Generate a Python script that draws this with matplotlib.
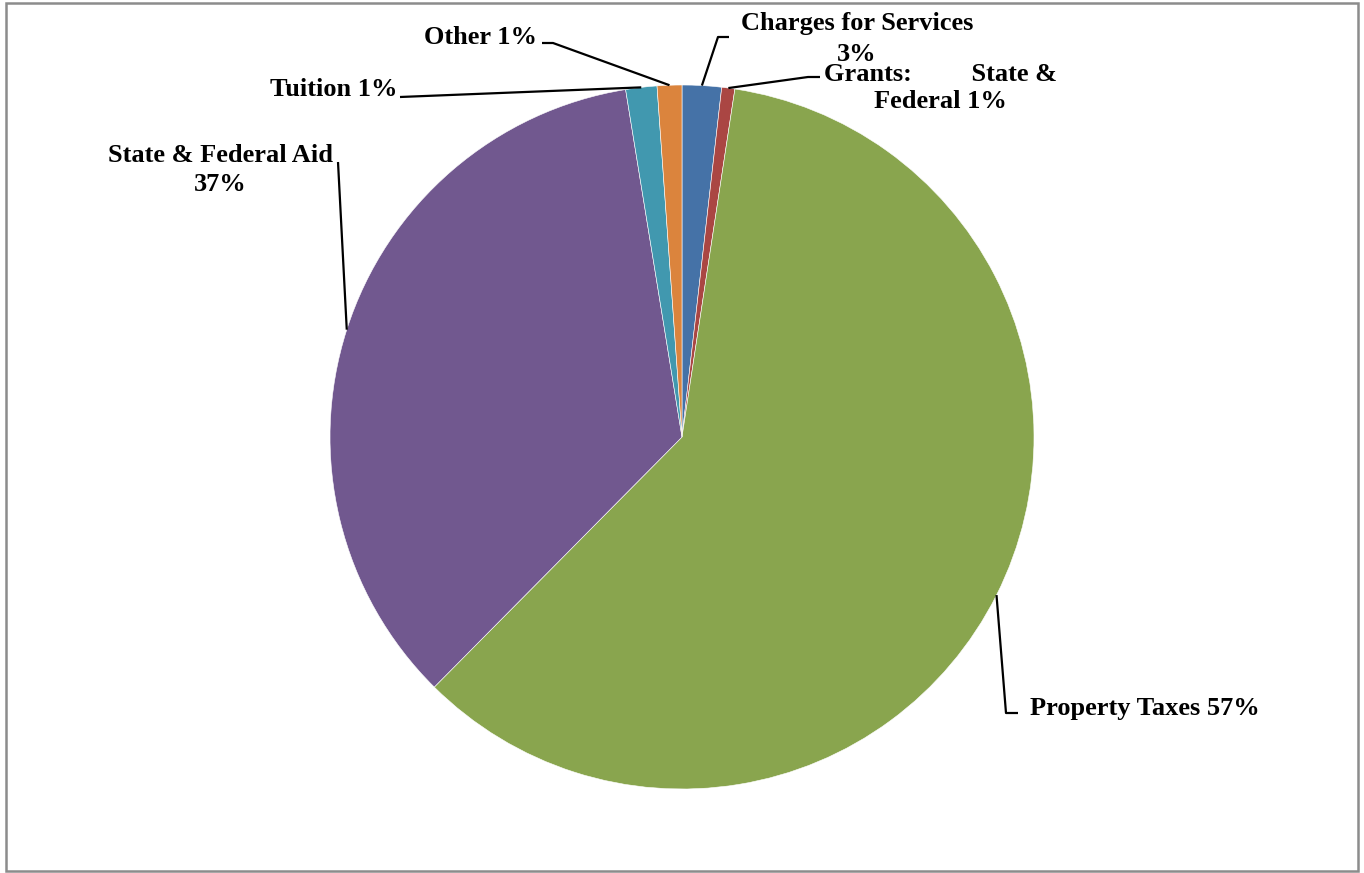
import numpy as np
import matplotlib.pyplot as plt
from matplotlib.patches import Rectangle

# wedge shares (clockwise from 12 o'clock)
categories = ["Charges for Services", "Grants: State & Federal", "Property Taxes",
              "State & Federal Aid", "Tuition", "Other"]
values = [1.8, 0.6, 60.0, 35.0, 1.43, 1.13]
label_texts = ["Charges for Services\n3%", "Grants:         State &\nFederal 1%",
               "Property Taxes 57%", "State & Federal Aid\n37%", "Tuition 1%", "Other 1%"]
colors = ["#4572A7", "#AA4643", "#89A54E", "#71588F", "#4198AF", "#DB843D"]

W, H = 1364, 873
CX, CY, R = 682, 437, 352


def px(x, y):
    # pixel position (from top-left) -> data coords (pie radius = 1)
    return ((x - CX) / R, (CY - y) / R)


plt.rcParams['font.family'] = ['Liberation Serif', 'DejaVu Serif']

fig = plt.figure(figsize=(W / 100, H / 100), dpi=100)
ax = fig.add_axes([0, 0, 1, 1])
wedges, _ = ax.pie(values, colors=colors, startangle=90, counterclock=False,
                   radius=1, center=(0, 0),
                   wedgeprops=dict(edgecolor='white', linewidth=0.4))
ax.set_aspect('auto')
ax.set_xlim(px(0, 0)[0], px(W, 0)[0])
ax.set_ylim(px(0, H)[1], px(0, 0)[1])
ax.axis('off')

# leader elbows and label spots, in pixels
layout = [
    dict(path=[(718, 37), (729, 37)], text=(857, 39), ha='center', ls=1.45),
    dict(path=[(808, 77), (820, 77)], text=(940, 88), ha='center', ls=1.25),
    dict(path=[(1006, 713), (1018, 713)], text=(1030, 708), ha='left', ls=1.1),
    dict(path=[(338, 162)], text=(220, 170), ha='center', ls=1.35),
    dict(path=[(400, 97)], text=(397, 89), ha='right', ls=1.1),
    dict(path=[(553, 43), (542, 43)], text=(537, 37), ha='right', ls=1.1),
]

for w, lab, lay in zip(wedges, label_texts, layout):
    mid = np.deg2rad((w.theta1 + w.theta2) / 2)
    xs = [np.cos(mid)] + [px(*p)[0] for p in lay['path']]
    ys = [np.sin(mid)] + [px(*p)[1] for p in lay['path']]
    ax.plot(xs, ys, color='black', lw=1.6, solid_capstyle='butt')
    tx, ty = px(*lay['text'])
    ax.text(tx, ty, lab, ha=lay['ha'], va='center', fontsize=19,
            fontweight='bold', linespacing=lay['ls'], multialignment='center')

# chart border
x0, y0 = px(6, 871)
x1, y1 = px(1358, 3)
ax.add_patch(Rectangle((x0, y0), x1 - x0, y1 - y0, fill=False,
                       edgecolor='#8c8c8c', lw=1.8, clip_on=False))

fig.savefig('out.png', dpi=100)
